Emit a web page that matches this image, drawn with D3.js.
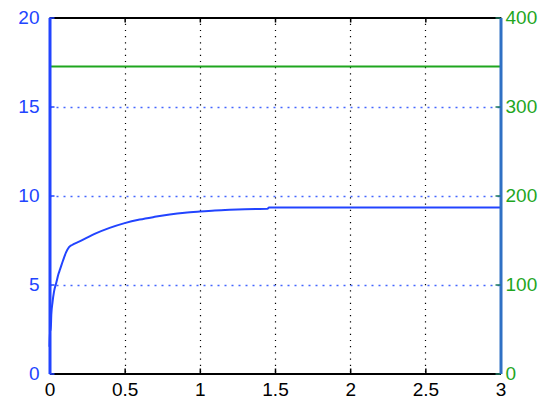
<!DOCTYPE html>
<html><head><meta charset="utf-8">
<script src="https://cdn.jsdelivr.net/npm/d3@7"></script>
<style>body{margin:0;background:#fff}svg{display:block}text{font-family:"Liberation Sans",Arial,sans-serif}</style>
</head><body><svg id="c" width="557" height="408"></svg>
<script>
const xTicks = [0, 0.5, 1, 1.5, 2, 2.5, 3];
const xTickLabels = ["0", "0.5", "1", "1.5", "2", "2.5", "3"];
const leftTicks = [0, 5, 10, 15, 20];
const rightTicks = [0, 100, 200, 300, 400];
const blueX = [0, 0.004, 0.008, 0.012, 0.02, 0.03, 0.045, 0.06, 0.07, 0.09, 0.11, 0.13, 0.15, 0.2, 0.25, 0.3, 0.4, 0.5, 0.6, 0.7, 0.8, 0.9, 1.0, 1.1, 1.2, 1.3, 1.45, 1.46, 3.0];
const blueY = [1.5, 2.6, 2.4, 3.3, 4.0, 4.6, 5.1, 5.6, 5.85, 6.35, 6.8, 7.1, 7.22, 7.42, 7.63, 7.84, 8.18, 8.45, 8.65, 8.8, 8.93, 9.03, 9.1, 9.16, 9.2, 9.23, 9.25, 9.33, 9.33];
const greenX = [0, 3];
const greenY = [345, 345];

const svg = d3.select("#c");
const L = 49.5, R = 500.5, T = 17.5, B = 373.5;
const x = d3.scaleLinear().domain([0, 3]).range([L, R]);
const yl = d3.scaleLinear().domain([0, 20]).range([B, T]);
const yr = d3.scaleLinear().domain([0, 400]).range([B, T]);
const BLUE = "#2244ff", GREEN = "#1fa61f";

// grid
svg.append("g").selectAll("line").data(xTicks.slice(1, -1)).join("line")
  .attr("x1", d => Math.round(x(d)) + 0.5).attr("x2", d => Math.round(x(d)) + 0.5)
  .attr("y1", T).attr("y2", B).attr("stroke", "#000").attr("stroke-width", 1.2)
  .attr("stroke-dasharray", "1.2,5");
svg.append("g").selectAll("line").data(leftTicks.slice(1, -1)).join("line")
  .attr("x1", L).attr("x2", R).attr("y1", d => Math.round(yl(d)) + 0.5).attr("y2", d => Math.round(yl(d)) + 0.5)
  .attr("stroke", "#4466ff").attr("stroke-width", 1.3).attr("stroke-dasharray", "2,5");

// data
svg.append("path").datum(greenX.map((v, i) => [v, greenY[i]]))
  .attr("d", d3.line().x(d => x(d[0])).y(d => yr(d[1])))
  .attr("fill", "none").attr("stroke", GREEN).attr("stroke-width", 2);
svg.append("path").datum(blueX.map((v, i) => [v, blueY[i]]))
  .attr("d", d3.line().curve(d3.curveMonotoneX).x(d => x(d[0])).y(d => yl(d[1])))
  .attr("fill", "none").attr("stroke", BLUE).attr("stroke-width", 2);

// axes
const fs = "19px";
const xb = svg.append("g").attr("transform", `translate(0,${B})`)
  .call(d3.axisBottom(x).tickValues(xTicks).tickFormat((d, i) => xTickLabels[i]).tickSizeInner(-5).tickSizeOuter(0).tickPadding(9));
const xt = svg.append("g").attr("transform", `translate(0,${T})`)
  .call(d3.axisTop(x).tickValues(xTicks).tickFormat("").tickSizeInner(-5).tickSizeOuter(0));
[xb, xt].forEach(g => { g.select(".domain").attr("stroke", "#000").attr("stroke-width", 2); g.selectAll(".tick line").attr("stroke", "#000").attr("stroke-width", 1.5); });
xb.selectAll("text").attr("fill", "#000").style("font-size", fs);

const yL = svg.append("g").attr("transform", `translate(${L},0)`)
  .call(d3.axisLeft(yl).tickValues(leftTicks).tickSizeInner(-5).tickSizeOuter(0).tickPadding(10));
yL.select(".domain").attr("stroke", BLUE).attr("stroke-width", 3);
yL.selectAll(".tick line").attr("stroke", BLUE).attr("stroke-width", 1.5);
yL.selectAll("text").attr("fill", BLUE).style("font-size", fs);

const yR = svg.append("g").attr("transform", `translate(${R},0)`)
  .call(d3.axisRight(yr).tickValues(rightTicks).tickSizeInner(-5).tickSizeOuter(0).tickPadding(5));
yR.select(".domain").attr("stroke", "#2f70c4").attr("stroke-width", 3);
yR.selectAll(".tick line").attr("stroke", "#1f7a60").attr("stroke-width", 1.5);
yR.selectAll("text").attr("fill", GREEN).style("font-size", fs);
</script></body></html>
